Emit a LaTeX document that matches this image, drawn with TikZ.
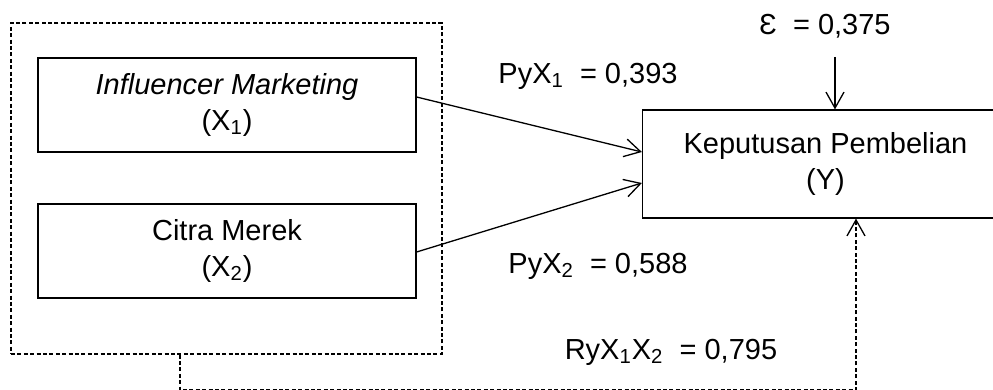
\documentclass[tikz,border=0pt]{standalone}
\usepackage{fontspec}
\setmainfont{Liberation Sans}
\usetikzlibrary{arrows.meta}
\tikzset{
  box/.style={draw, line width=0.6pt, minimum width=189pt, minimum height=47pt, align=center, inner sep=0pt},
  grpbox/.style={draw, dash pattern=on 2pt off 1.2pt, line width=0.6pt, minimum width=215.5pt, minimum height=165.5pt, inner sep=0pt},
  lbl/.style={inner sep=0pt},
  link/.style={line width=0.65pt, -{Straight Barb[length=8pt, width=9pt]}},
  corr/.style={link, dash pattern=on 2pt off 1.2pt}
}
\begin{document}
\begin{tikzpicture}[x=0.5pt, y=-0.5pt, font=\fontsize{14.5}{18}\selectfont]
\useasboundingbox (0,0) rectangle (993,390);
\node[grpbox] (grp) at (226.5,188.5) {};
\node[box] (x1) at (227,105) {\textit{Influencer Marketing}\\(X\textsubscript{1})};
\node[box] (x2) at (227,251) {Citra Merek\\(X\textsubscript{2})};
\node[box, minimum width=183pt, minimum height=54pt] (y) at (825.5,164) {Keputusan Pembelian\\(Y)};
\node[lbl] (eps) at (825,26) {Ɛ\ \ = 0,375};
\node[lbl] (p1) at (588,76) {PyX\textsubscript{1}\ \ = 0,393};
\node[lbl] (p2) at (598,266) {PyX\textsubscript{2}\ \ = 0,588};
\node[lbl] (r12) at (671,352) {RyX\textsubscript{1}X\textsubscript{2}\ \ = 0,795};
\coordinate (etop) at (835,57);
\coordinate (low) at (856,390);
\draw[link] ([yshift=4pt]x1.east) -- ([yshift=6pt]y.west);
\draw[link] ([yshift=-0.5pt]x2.east) -- ([yshift=-9.5pt]y.west);
\draw[link] (etop) -- (etop |- y.north);
\draw[corr] ([xshift=-23.25pt]grp.south) |- (low) -- (low |- y.south);
\end{tikzpicture}
\end{document}
